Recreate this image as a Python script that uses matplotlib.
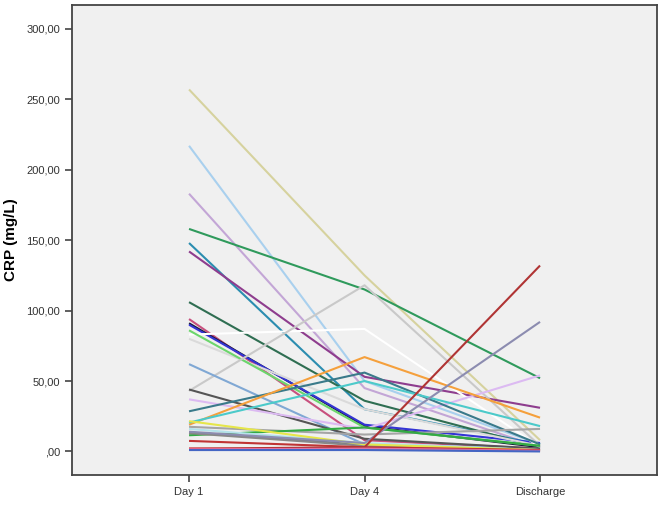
import numpy as np
import matplotlib.pyplot as plt
from matplotlib.ticker import FuncFormatter

# data (CRP, mg/L) per patient
timepoints = ['Day 1', 'Day 4', 'Discharge']
day1 = [257, 217, 183, 158, 148, 142, 106, 94, 91, 90, 80, 83, 86, 43, 62, 44,
        37, 28.5, 19, 20.5, 17.5, 11.5, 13.5, 13, 16, 21.5, 7.5, 14, 2, 2, 1.5, 1]
day4 = [125, 50, 45, 115, 30, 53, 36, 8, 18, 19, 30, 87, 17, 118, 5, 9,
        16, 56, 67, 50, 12, 17, 5, 4, 6, 5, 3, 6, 3, 1.5, 2, 1]
discharge = [8, 5, 3, 52, 5, 31, 3, 2, 3, 6, 4, 3, 4, 4, 2, 2,
             54, 5, 24, 18, 16, 4, 1, 1, 1, 1, 1, 92, 132, 0.5, 0.5, 0]

colors = ['#d6d29e', '#a9d0ee', '#c3a6d6', '#2f9a5c', '#2b8db0', '#8e3d8e',
          '#2f6e52', '#c8507e', '#1a1a3a', '#3434d4', '#dadada', '#ffffff',
          '#6cd66c', '#c9c9c9', '#80a8d4', '#555555', '#dcbaf2', '#3a7a8a',
          '#f5a03c', '#4ccaca', '#a5a5a5', '#33aa44', '#72728a', '#888888',
          '#b4e2ea', '#e6e64a', '#c03434', '#8c8cb0', '#b03434', '#e03838',
          '#e070a4', '#4466c4']

x = np.arange(len(timepoints))
values = np.array([day1, day4, discharge])

fig = plt.figure(figsize=(6.61, 5.26), dpi=100)
ax = fig.add_axes([0.109, 0.097, 0.885, 0.893])
ax.set_facecolor('#f0f0f0')

for i, c in enumerate(colors):
    ax.plot(x, values[:, i], color=c, lw=1.5, solid_capstyle='butt')

ax.set_xlim(-2 / 3, 2 + 2 / 3)
ax.set_ylim(-16.7, 316.8)
ax.set_xticks(x)
ax.set_xticklabels(timepoints)
ax.set_yticks(np.arange(0, 301, 50))
ax.yaxis.set_major_formatter(FuncFormatter(
    lambda v, p: ('%.2f' % v).replace('.', ',').lstrip('0') if v == 0 else ('%.2f' % v).replace('.', ',')))

for s in ax.spines.values():
    s.set_color('#444444')
    s.set_linewidth(1.3)
ax.tick_params(direction='out', length=5, width=1.2, color='#444444',
               labelsize=8, labelcolor='#333333')
for lab in ax.get_xticklabels() + ax.get_yticklabels():
    lab.set_family('Liberation Sans')

ax.set_ylabel('CRP (mg/L)', fontsize=11, fontweight='bold', family='Liberation Sans', labelpad=6)

fig.savefig('out.png', dpi=100)
